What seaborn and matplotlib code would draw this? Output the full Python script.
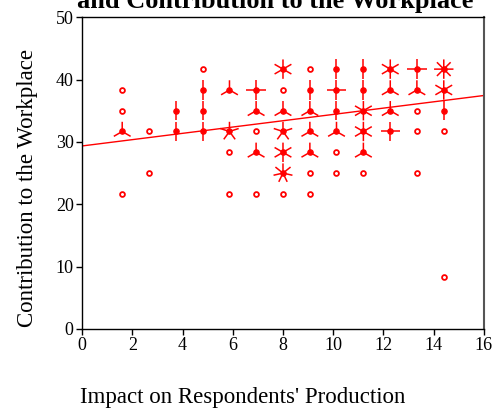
import numpy as np
import pandas as pd
import matplotlib
matplotlib.use("Agg")
import matplotlib.pyplot as plt
from matplotlib.path import Path
import seaborn as sns

# Sunflower cells: x position, y position, number of respondents
x_vals = [1.6, 1.6, 1.6, 1.6,
          2.67, 2.67,
          3.73, 3.73,
          4.8, 4.8, 4.8, 4.8,
          5.87, 5.87, 5.87, 5.87,
          6.93, 6.93, 6.93, 6.93, 6.93,
          8.0, 8.0, 8.0, 8.0, 8.0, 8.0, 8.0,
          9.07, 9.07, 9.07, 9.07, 9.07, 9.07, 9.07,
          10.13, 10.13, 10.13, 10.13, 10.13, 10.13,
          11.2, 11.2, 11.2, 11.2, 11.2, 11.2,
          12.27, 12.27, 12.27, 12.27,
          13.33, 13.33, 13.33, 13.33, 13.33,
          14.4, 14.4, 14.4, 14.4, 14.4]
y_vals = [38.33, 35.0, 31.67, 21.67,
          31.67, 25.0,
          35.0, 31.67,
          41.67, 38.33, 35.0, 31.67,
          38.33, 31.67, 28.33, 21.67,
          38.33, 35.0, 31.67, 28.33, 21.67,
          41.67, 38.33, 35.0, 31.67, 28.33, 25.0, 21.67,
          41.67, 38.33, 35.0, 31.67, 28.33, 25.0, 21.67,
          41.67, 38.33, 35.0, 31.67, 28.33, 25.0,
          41.67, 38.33, 35.0, 31.67, 28.33, 25.0,
          41.67, 38.33, 35.0, 31.67,
          41.67, 38.33, 35.0, 31.67, 25.0,
          41.67, 38.33, 35.0, 31.67, 8.33]
counts = [1, 1, 3, 1,
          1, 1,
          2, 2,
          1, 2, 2, 2,
          3, 5, 1, 1,
          4, 3, 1, 3, 1,
          6, 1, 3, 5, 6, 7, 1,
          1, 2, 3, 3, 3, 1, 1,
          2, 4, 2, 3, 1, 1,
          2, 2, 6, 6, 3, 1,
          6, 3, 3, 4,
          4, 3, 1, 1, 1,
          8, 6, 2, 1, 1]

title_text = "and Contribution to the Workplace"
x_label = "Impact on Respondents' Production"
y_label = "Contribution to the Workplace"
x_ticks = [0, 2, 4, 6, 8, 10, 12, 14, 16]
y_ticks = [0, 10, 20, 30, 40, 50]

df = pd.DataFrame({"x": x_vals, "y": y_vals, "n": counts})
expanded = df.loc[df.index.repeat(df["n"])].reset_index(drop=True)

sns.set_theme(style="white")
plt.rcParams["font.family"] = ["Liberation Serif", "DejaVu Serif"]

fig = plt.figure(figsize=(5.01, 4.09), dpi=100)
ax = fig.add_axes([0.1637, 0.1956, 0.8023, 0.7624])
ax.set_xlim(0, 16)
ax.set_ylim(0, 50)

red = "#ff0000"


def petal_marker(n):
    verts, codes = [], []
    for k in range(n):
        a = np.pi / 2 + 2 * np.pi * k / n
        verts += [(0, 0), (np.cos(a), np.sin(a))]
        codes += [Path.MOVETO, Path.LINETO]
    return Path(verts, codes)


# regression line from expanded observations
sns.regplot(data=expanded, x="x", y="y", scatter=False, ci=None, truncate=False,
            ax=ax, line_kws=dict(color=red, lw=1.0))

# petals
for n in sorted(df["n"].unique()):
    if n < 2:
        continue
    sub = df[df["n"] == n]
    sns.scatterplot(data=sub, x="x", y="y", marker=petal_marker(int(n)), s=195,
                    facecolor="none", edgecolor=red, linewidth=1.1, ax=ax, zorder=3)

# centers
singles = df[df["n"] == 1]
multi = df[df["n"] > 1]
sns.scatterplot(data=singles, x="x", y="y", marker="o", s=12, facecolor="white",
                edgecolor=red, linewidth=1.3, ax=ax, zorder=4)
sns.scatterplot(data=multi, x="x", y="y", marker="o", s=14, facecolor=red,
                edgecolor=red, linewidth=1.0, ax=ax, zorder=4)

ax.set_xlim(0, 16)
ax.set_ylim(0, 50)
ax.set_xticks(x_ticks)
ax.set_yticks(y_ticks)
ax.tick_params(axis="both", which="both", direction="out", length=4, width=1,
               labelsize=13, color="black", labelcolor="black", pad=2,
               bottom=True, left=True, top=False, right=False)
for side in ["left", "bottom", "top"]:
    ax.spines[side].set_color("black")
    ax.spines[side].set_linewidth(1.0)
ax.spines["right"].set_color("#555555")
ax.spines["right"].set_linewidth(1.5)
ax.set_xlabel("")
ax.set_ylabel("")

fig.text(0.054, 0.54, y_label, rotation=90, ha="center", va="center",
         fontsize=16.5, color="black")
fig.text(0.485, 0.029, x_label, ha="center", va="center", fontsize=16.5,
         color="black")
fig.text(0.55, 0.981, title_text, ha="center", va="baseline", fontsize=19,
         fontweight="bold", color="black")

fig.savefig("out.png", dpi=100)
